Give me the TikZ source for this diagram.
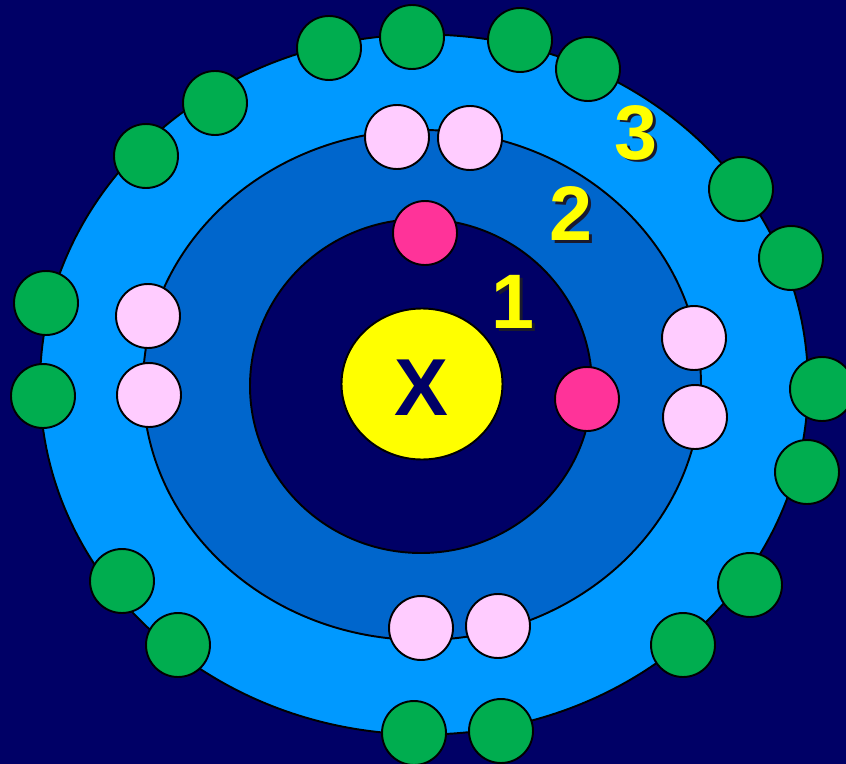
\documentclass[tikz,border=0pt]{standalone}
\usepackage{fontspec}
\setmainfont{Liberation Sans}
\definecolor{bgnavy}{HTML}{000066}
\definecolor{shellthree}{HTML}{0099FF}
\definecolor{shelltwo}{HTML}{0066CC}
\definecolor{egreen}{HTML}{00AD4F}
\definecolor{epink}{HTML}{FFCCFF}
\definecolor{emag}{HTML}{FF3399}
\definecolor{nucyellow}{HTML}{FFFF00}
\definecolor{shadowc}{HTML}{1A1A2E}
\newcommand{\shadowed}[1]{\makebox[0pt][l]{\hspace{1.6pt}\raisebox{-1.6pt}{\textcolor{shadowc}{#1}}}#1}
\tikzset{
  electron/.style={circle, draw=black, line width=1.1pt, minimum size=1.28cm, inner sep=0pt},
  egr/.style={electron, fill=egreen},
  epk/.style={electron, fill=epink},
  emg/.style={electron, fill=emag},
  shell/.style={draw=black, line width=1.1pt},
  numlabel/.style={font=\fontsize{44}{44}\selectfont\bfseries, text=nucyellow}
}
\begin{document}
\begin{tikzpicture}[x=0.02cm,y=-0.02cm]
\fill[bgnavy] (0,0) rectangle (846,764);
\useasboundingbox (0,0) rectangle (846,764);
% shells
\draw[shell, fill=shellthree] (424,384.5) ellipse [x radius=384, y radius=350];
\draw[shell, fill=shelltwo] (422,385) ellipse [x radius=279, y radius=255];
\draw[shell, fill=bgnavy] (421,386) ellipse [x radius=171, y radius=167];
\draw[shell, fill=nucyellow] (422,384) ellipse [x radius=80.5, y radius=75.5];
\node[font=\fontsize{46}{46}\selectfont\bfseries, text=bgnavy] (xlab) at (421,388) {X};
% shell labels
\node[numlabel] (l1) at (513,303) {\shadowed{1}};
\node[numlabel] (l2) at (571,215) {\shadowed{2}};
\node[numlabel] (l3) at (636,134) {\shadowed{3}};
% shell 1
\node[emg] (m1) at (425,233) {};
\node[emg] (m2) at (587,399) {};
% shell 2
\node[epk] (p1) at (397,137) {};
\node[epk] (p2) at (470,138) {};
\node[epk] (p3) at (148,316) {};
\node[epk] (p4) at (149,395) {};
\node[epk] (p5) at (694,338) {};
\node[epk] (p6) at (695,417) {};
\node[epk] (p7) at (421,628) {};
\node[epk] (p8) at (498,626) {};
% shell 3
\node[egr] (g1) at (329,48) {};
\node[egr] (g2) at (412,37) {};
\node[egr] (g3) at (520,40) {};
\node[egr] (g4) at (588,69) {};
\node[egr] (g5) at (215,103) {};
\node[egr] (g6) at (146,156) {};
\node[egr] (g7) at (741,189) {};
\node[egr] (g8) at (791,258) {};
\node[egr] (g9) at (46,303) {};
\node[egr] (g10) at (43,396) {};
\node[egr] (g11) at (822,389) {};
\node[egr] (g12) at (807,472) {};
\node[egr] (g13) at (750,585) {};
\node[egr] (g14) at (683,645) {};
\node[egr] (g15) at (122,581) {};
\node[egr] (g16) at (178,645) {};
\node[egr] (g17) at (414,733) {};
\node[egr] (g18) at (501,731) {};
\end{tikzpicture}
\end{document}
